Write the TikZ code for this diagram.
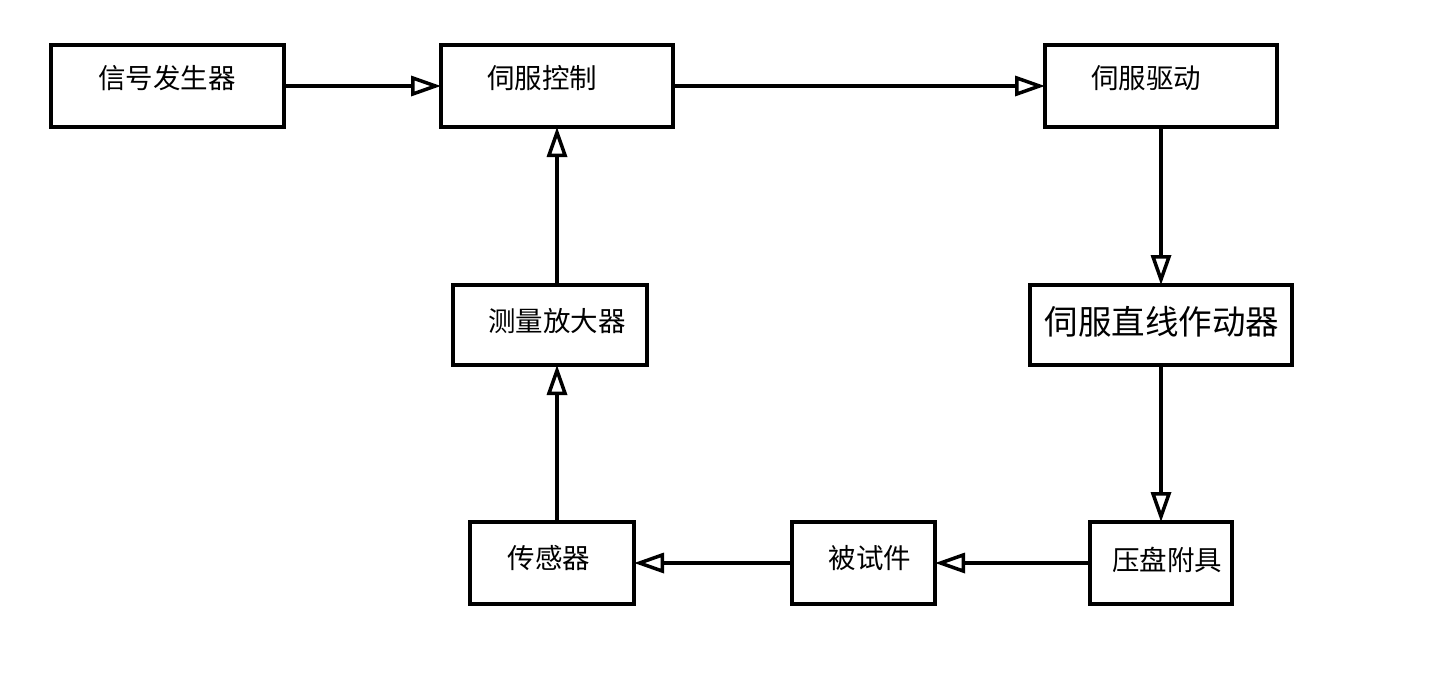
\documentclass[tikz,border=0pt]{standalone}
\usepackage{fontspec}
\newfontfamily\cjk{Noto Sans CJK SC}
\usetikzlibrary{arrows.meta}
\begin{document}
\begin{tikzpicture}[x=1pt,y=-1pt,
  blk/.style={draw,line width=4pt,minimum width=#1,inner sep=0pt},
  lbl/.style={font=\cjk\fontsize{27.5}{27.5}\selectfont,inner sep=0pt},
  conn/.style={line width=3.5pt,shorten >=-2pt,-{Triangle[open,length=30pt,width=20pt,line width=3.5pt]}}]
\useasboundingbox (0,0) rectangle (1435,678);
% boxes
\node[blk=233pt,minimum height=82pt] (sig) at (167.5,86) {};
\node[blk=232pt,minimum height=82pt] (ctl) at (557,86) {};
\node[blk=232pt,minimum height=82pt] (drv) at (1161,86) {};
\node[blk=262pt,minimum height=80pt] (act) at (1161,325) {};
\node[blk=194pt,minimum height=80pt] (amp) at (550,325) {};
\node[blk=164pt,minimum height=82pt] (sen) at (552,563) {};
\node[blk=143pt,minimum height=82pt] (spc) at (863.5,563) {};
\node[blk=142pt,minimum height=82pt] (plt) at (1161,563) {};
% labels
\node[lbl] (tsig) at (167,78) {信号发生器};
\node[lbl] (tctl) at (542,78) {伺服控制};
\node[lbl] (tdrv) at (1146,78) {伺服驱动};
\node[lbl,font=\cjk\fontsize{33.5}{33.5}\selectfont] (tact) at (1162,322) {伺服直线作动器};
\node[lbl] (tamp) at (557,321) {测量放大器};
\node[lbl] (tsen) at (549,558) {传感器};
\node[lbl] (tspc) at (870,558) {被试件};
\node[lbl] (tplt) at (1167,560) {压盘附具};
% connectors
\draw[conn] (sig.east) -- (ctl.west);
\draw[conn] (ctl.east) -- (drv.west);
\draw[conn] (drv.south) -- (act.north);
\draw[conn] (act.south) -- (plt.north);
\draw[conn] (plt.west) -- (spc.east);
\draw[conn] (spc.west) -- (sen.east);
\draw[conn] (sen.north -| ctl.south) -- (amp.south -| ctl.south);
\draw[conn] (amp.north -| ctl.south) -- (ctl.south);
\end{tikzpicture}
\end{document}
